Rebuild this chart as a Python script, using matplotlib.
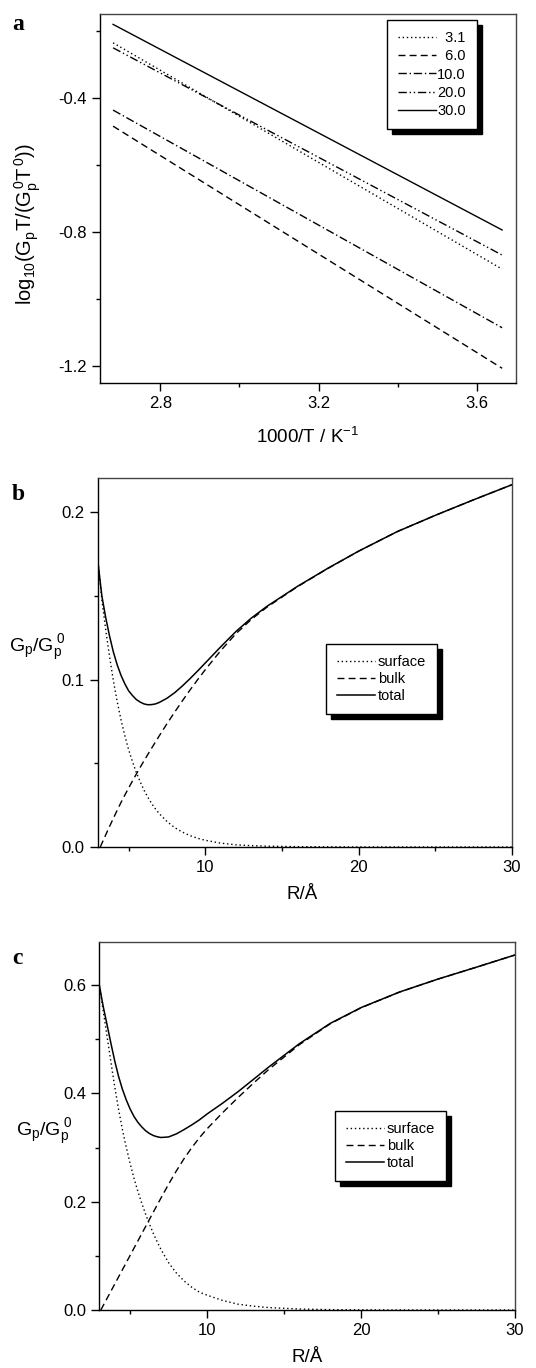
import matplotlib
matplotlib.use('Agg')
import matplotlib.pyplot as plt
from matplotlib.ticker import MultipleLocator, FormatStrFormatter

# ----- ----- DATA ----- -----
# panel a : log10(Gp T / (Gp0 T0)) against 1000/T for several radii
inv_T = [2.681, 3.663]
radius_labels = ['\u20073.1', '\u20076.0', '10.0', '20.0', '30.0']
a_r31 = [-0.235, -0.911]
a_r60 = [-0.484, -1.207]
a_r100 = [-0.436, -1.086]
a_r200 = [-0.250, -0.869]
a_r300 = [-0.180, -0.794]

# panel b : surface / bulk / total contributions against R
R_b = [3.0, 3.25, 3.5, 3.75, 4.0, 4.25, 4.5, 4.75, 5.0, 5.25, 5.5, 5.75,
       6.0, 6.25, 6.5, 6.75, 7.0, 7.5, 8.0, 8.5, 9.0, 9.5, 10.0, 11.0, 12.0,
       13.0, 14.0, 16.0, 18.0, 20.0, 22.5, 25.0, 27.5, 30.0]
surface_b = [0.170, 0.148, 0.130, 0.114, 0.0995, 0.087, 0.076, 0.0665,
             0.058, 0.051, 0.0445, 0.039, 0.034, 0.0297, 0.026, 0.0227,
             0.0199, 0.0152, 0.0116, 0.0089, 0.0068, 0.0052, 0.0040, 0.0023,
             0.0013, 0.0008, 0.0005, 0.0002, 0.0001, 0.0, 0.0, 0.0, 0.0, 0.0]
total_b = [0.170, 0.1501, 0.1372, 0.1262, 0.1166, 0.1089, 0.1026, 0.0975,
           0.0933, 0.0905, 0.0881, 0.0866, 0.0855, 0.0850, 0.0851, 0.0855,
           0.0864, 0.0889, 0.0922, 0.0962, 0.1006, 0.1052, 0.1100, 0.1196,
           0.1288, 0.1368, 0.1437, 0.1557, 0.1666, 0.1768, 0.1884, 0.1982,
           0.2075, 0.2165]
R_bulk_b = [3.15, 3.25, 3.5, 3.75, 4.0, 4.25, 4.5, 4.75, 5.0, 5.25, 5.5,
            5.75, 6.0, 6.25, 6.5, 6.75, 7.0, 7.5, 8.0, 8.5, 9.0, 9.5, 10.0,
            11.0, 12.0, 13.0, 14.0, 16.0, 18.0, 20.0, 22.5, 25.0, 27.5, 30.0]
bulk_b = [0.0, 0.0021, 0.0072, 0.0122, 0.0171, 0.0219, 0.0266, 0.0310,
          0.0353, 0.0395, 0.0436, 0.0476, 0.0515, 0.0553, 0.0591, 0.0628,
          0.0665, 0.0737, 0.0806, 0.0873, 0.0938, 0.1000, 0.1060, 0.1173,
          0.1275, 0.1360, 0.1432, 0.1555, 0.1665, 0.1768, 0.1884, 0.1982,
          0.2075, 0.2165]

# panel c
R_c = [3.0, 3.25, 3.5, 3.75, 4.0, 4.25, 4.5, 4.75, 5.0, 5.25, 5.5, 5.75,
       6.0, 6.25, 6.5, 6.75, 7.0, 7.5, 8.0, 8.5, 9.0, 9.5, 10.0, 11.0, 12.0,
       13.0, 14.0, 16.0, 18.0, 20.0, 22.5, 25.0, 27.5, 30.0]
surface_c = [0.600, 0.553, 0.506, 0.4585, 0.4125, 0.3705, 0.3335, 0.3005,
             0.2705, 0.2435, 0.2195, 0.1978, 0.1775, 0.1590, 0.1420, 0.1265,
             0.1120, 0.0873, 0.0685, 0.0538, 0.0421, 0.033, 0.0274, 0.0177,
             0.0108, 0.0071, 0.0045, 0.0018, 0.0007, 0.0003, 0.0001, 0.0,
             0.0, 0.0]
total_c = [0.600, 0.561, 0.5272, 0.4930, 0.4602, 0.4315, 0.4077, 0.3880,
           0.3712, 0.3575, 0.3467, 0.3383, 0.3312, 0.3260, 0.3222, 0.3199,
           0.3185, 0.3195, 0.3251, 0.3330, 0.3416, 0.3510, 0.3619, 0.3817,
           0.4028, 0.4256, 0.4485, 0.4918, 0.5292, 0.5583, 0.5871, 0.6110,
           0.6330, 0.6555]
R_bulk_c = [3.1, 3.25, 3.5, 3.75, 4.0, 4.25, 4.5, 4.75, 5.0, 5.25, 5.5,
            5.75, 6.0, 6.25, 6.5, 6.75, 7.0, 7.5, 8.0, 8.5, 9.0, 9.5, 10.0,
            11.0, 12.0, 13.0, 14.0, 16.0, 18.0, 20.0, 22.5, 25.0, 27.5, 30.0]
bulk_c = [0.0, 0.0080, 0.0212, 0.0345, 0.0477, 0.0610, 0.0742, 0.0875,
          0.1007, 0.1140, 0.1272, 0.1405, 0.1537, 0.1670, 0.1802, 0.1934,
          0.2065, 0.2322, 0.2566, 0.2792, 0.2995, 0.3180, 0.3345, 0.3640,
          0.3920, 0.4185, 0.4440, 0.4900, 0.5285, 0.5580, 0.5870, 0.6110,
          0.6330, 0.6555]

component_labels = ['surface', 'bulk', 'total']

# ----- ----- STYLE ----- -----
plt.rcParams['font.family'] = ['Liberation Sans', 'DejaVu Sans']
plt.rcParams['mathtext.fontset'] = 'custom'
plt.rcParams['mathtext.rm'] = 'Liberation Sans'
plt.rcParams['mathtext.it'] = 'Liberation Sans'
plt.rcParams['mathtext.default'] = 'regular'
plt.rcParams['axes.unicode_minus'] = False

DOT = (0, (1, 2))
DASH = (0, (5, 3))
DASHDOT = (0, (6, 2, 1, 2))
DASHDOTDOT = (0, (6, 2, 1, 2, 1, 2))
SHADOW = {'ox': 3.5, 'oy': -3.5, 'facecolor': 'black', 'edgecolor': 'black', 'alpha': 1}

W, H = 536, 1368
fig = plt.figure(figsize=(W / 100, H / 100), dpi=100)


def add_axes(left, top, right, bottom):
    return fig.add_axes([left / W, 1 - bottom / H, (right - left) / W, (bottom - top) / H])


def style_axes(ax):
    for side in ['top', 'right']:
        ax.spines[side].set_linewidth(1.0)
        ax.spines[side].set_color('#444444')
    for side in ['left', 'bottom']:
        ax.spines[side].set_linewidth(1.0)
    ax.tick_params(which='both', direction='out', top=False, right=False,
                   labelsize=12, width=1.0)
    ax.tick_params(which='major', length=6)
    ax.tick_params(which='minor', length=3)


def make_legend(ax, anchor, fontsize, handlelength, handletextpad, spacing):
    leg = ax.legend(loc='upper right', bbox_to_anchor=anchor, borderaxespad=0,
                    fontsize=fontsize, frameon=True, fancybox=False,
                    framealpha=1, edgecolor='black', shadow=SHADOW,
                    handlelength=handlelength, handletextpad=handletextpad,
                    labelspacing=spacing, borderpad=0.75)
    leg.get_frame().set_linewidth(1.0)
    return leg


# ----- ----- PANEL A ----- -----
ax_a = add_axes(100, 14, 516, 383)
ax_a.plot(inv_T, a_r31, color='black', lw=1, ls=DOT, label=radius_labels[0])
ax_a.plot(inv_T, a_r60, color='black', lw=1, ls=DASH, label=radius_labels[1])
ax_a.plot(inv_T, a_r100, color='black', lw=1, ls=DASHDOT, label=radius_labels[2])
ax_a.plot(inv_T, a_r200, color='black', lw=1, ls=DASHDOTDOT, label=radius_labels[3])
ax_a.plot(inv_T, a_r300, color='black', lw=1, ls='-', label=radius_labels[4])
ax_a.set_xlim(2.648, 3.698)
ax_a.set_ylim(-1.251, -0.149)
ax_a.xaxis.set_major_locator(MultipleLocator(0.4))
ax_a.xaxis.set_minor_locator(MultipleLocator(0.2))
ax_a.yaxis.set_major_locator(MultipleLocator(0.4))
ax_a.yaxis.set_minor_locator(MultipleLocator(0.2))
ax_a.xaxis.set_major_formatter(FormatStrFormatter('%.1f'))
ax_a.yaxis.set_major_formatter(FormatStrFormatter('%.1f'))
style_axes(ax_a)
ax_a.set_xlabel(r'1000/T / K$^{-1}$', fontsize=13.5, va='center')
ax_a.xaxis.set_label_coords(0.5, -0.146)
ax_a.set_ylabel(r'$log_{10}(G_pT/(G_p^{\,0}T^{\,0}))$', fontsize=14.5, va='center')
ax_a.yaxis.set_label_coords(-0.173, 0.431)
make_legend(ax_a, (0.906, 0.984), 10.5, 2.6, 0.1, 0.3)

# ----- ----- PANEL B ----- -----
ax_b = add_axes(98, 478, 512, 847)
ax_b.plot(R_b, surface_b, color='black', lw=1, ls=DOT, label=component_labels[0])
ax_b.plot(R_bulk_b, bulk_b, color='black', lw=1, ls=DASH, label=component_labels[1])
ax_b.plot(R_b, total_b, color='black', lw=1.1, ls='-', label=component_labels[2])
ax_b.set_xlim(3, 30)
ax_b.set_ylim(0, 0.2205)
ax_b.xaxis.set_major_locator(MultipleLocator(10))
ax_b.xaxis.set_minor_locator(MultipleLocator(5))
ax_b.yaxis.set_major_locator(MultipleLocator(0.1))
ax_b.yaxis.set_minor_locator(MultipleLocator(0.05))
ax_b.yaxis.set_major_formatter(FormatStrFormatter('%.1f'))
style_axes(ax_b)
ax_b.set_xlabel('R/Å', fontsize=13.5, va='center')
ax_b.xaxis.set_label_coords(0.493, -0.130)
ax_b.set_ylabel(r'$G_p/G_p^{\ 0}$', fontsize=14, rotation=0, ha='center', va='center')
ax_b.yaxis.set_label_coords(-0.147, 0.54)
make_legend(ax_b, (0.819, 0.550), 10.5, 2.6, 0.2, 0.2)

# ----- ----- PANEL C ----- -----
ax_c = add_axes(99.3, 941.7, 515, 1310)
ax_c.plot(R_c, surface_c, color='black', lw=1, ls=DOT, label=component_labels[0])
ax_c.plot(R_bulk_c, bulk_c, color='black', lw=1, ls=DASH, label=component_labels[1])
ax_c.plot(R_c, total_c, color='black', lw=1.1, ls='-', label=component_labels[2])
ax_c.set_xlim(3, 30)
ax_c.set_ylim(0, 0.68)
ax_c.xaxis.set_major_locator(MultipleLocator(10))
ax_c.xaxis.set_minor_locator(MultipleLocator(5))
ax_c.yaxis.set_major_locator(MultipleLocator(0.2))
ax_c.yaxis.set_minor_locator(MultipleLocator(0.1))
ax_c.yaxis.set_major_formatter(FormatStrFormatter('%.1f'))
style_axes(ax_c)
ax_c.set_xlabel('R/Å', fontsize=13.5, va='center')
ax_c.xaxis.set_label_coords(0.499, -0.130)
ax_c.set_ylabel(r'$G_p/G_p^{\ 0}$', fontsize=14, rotation=0, ha='center', va='center')
ax_c.yaxis.set_label_coords(-0.131, 0.483)
make_legend(ax_c, (0.834, 0.540), 10.5, 2.6, 0.2, 0.2)

# ----- ----- PANEL LETTERS ----- -----
for letter, y in [('a', 25), ('b', 494), ('c', 958)]:
    fig.text(12 / W, 1 - y / H, letter, fontsize=17, fontweight='bold',
             family='Liberation Serif', va='center', ha='left')

fig.savefig('out.png', dpi=100)
